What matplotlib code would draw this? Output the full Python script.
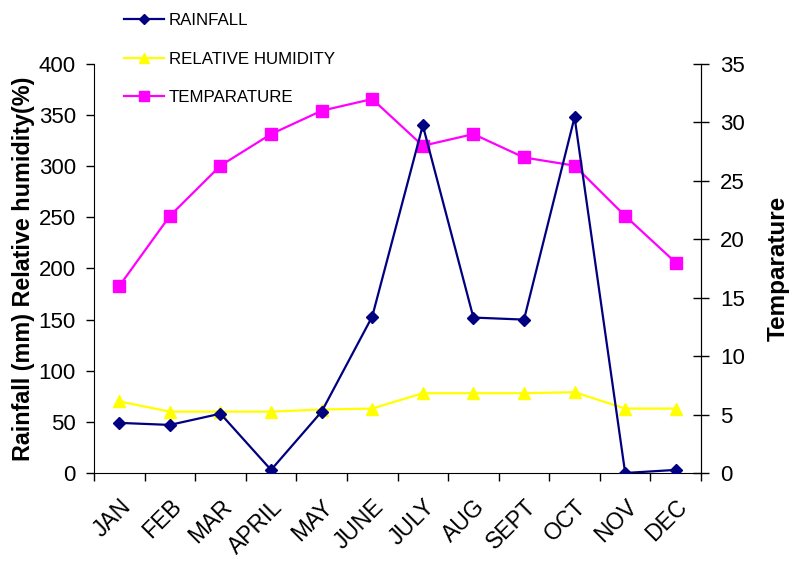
import numpy as np
import matplotlib
matplotlib.use('Agg')
import matplotlib.pyplot as plt
from matplotlib.lines import Line2D

# DATA------------------------------------------------------------------------------------------------------------------
months = ['JAN', 'FEB', 'MAR', 'APRIL', 'MAY', 'JUNE', 'JULY', 'AUG', 'SEPT', 'OCT', 'NOV', 'DEC']
rainfall = [49, 47, 58, 3, 60, 153, 340, 152, 150, 348, 0, 3]
humidity = [70, 60, 60, 60, 62, 63, 78, 78, 78, 79, 63, 63]
temperature = [16, 22, 26.3, 29, 31, 32, 28, 29, 27, 26.3, 22, 18]

plt.rcParams['font.family'] = ['Liberation Sans', 'DejaVu Sans']

fig = plt.figure(figsize=(7.98, 5.78), dpi=100)
ax = fig.add_axes([0.1178, 0.1817, 0.7607, 0.7076])
ax2 = ax.twinx()

x = np.arange(len(months))

ax.plot(x, rainfall, color='#000080', lw=1.6, marker='D', ms=6, label='RAINFALL', zorder=3)
ax.plot(x, humidity, color='#FFFF00', lw=1.6, marker='^', ms=8.5, label='RELATIVE HUMIDITY', zorder=2)
ax2.plot(x, temperature, color='#FF00FF', lw=1.6, marker='s', ms=8.5, label='TEMPARATURE')

ax.set_zorder(ax2.get_zorder() + 1)
ax.patch.set_visible(False)

ax.set_xlim(-0.5, 11.5)
ax.set_ylim(0, 400)
ax2.set_ylim(0, 35)
ax.set_yticks(np.arange(0, 401, 50))
ax2.set_yticks(np.arange(0, 36, 5))

# boundary ticks, labels centred on categories
ax.set_xticks(np.arange(-0.5, 12, 1))
ax.set_xticklabels([])
ax.set_xticks(x, minor=True)
ax.set_xticklabels(months, minor=True, rotation=45, ha='right', rotation_mode='anchor', fontsize=16.5)
ax.tick_params(axis='x', which='minor', length=0, pad=16)
ax.tick_params(axis='x', which='major', length=6, width=1, direction='out')
ax.tick_params(axis='y', length=6, width=1, direction='out', labelsize=16, pad=7)
ax2.tick_params(axis='y', length=11, width=1, direction='inout', labelsize=16, pad=8)

for a in (ax, ax2):
    a.spines['top'].set_visible(False)
ax2.spines['left'].set_visible(False)
ax2.spines['bottom'].set_visible(False)

ax.set_ylabel('Rainfall (mm) Relative humidity(%)', fontsize=16.8, fontweight='bold')
ax.yaxis.set_label_coords(-0.098, 0.5)
ax2.set_ylabel('Temparature', fontsize=17.5, fontweight='bold')
ax2.yaxis.set_label_coords(1.108, 0.5)

handles = [
    Line2D([], [], color='#000080', lw=1.6, marker='D', ms=5),
    Line2D([], [], color='#FFFF00', lw=1.6, marker='^', ms=7),
    Line2D([], [], color='#FF00FF', lw=1.6, marker='s', ms=7),
]
fig.legend(handles, ['RAINFALL', 'RELATIVE HUMIDITY', 'TEMPARATURE'], loc='upper left',
           bbox_to_anchor=(0.136, 1.004), frameon=False, fontsize=12.2, labelspacing=1.4,
           handlelength=2.35, handletextpad=0.3)

plt.savefig('out.png', dpi=100)
